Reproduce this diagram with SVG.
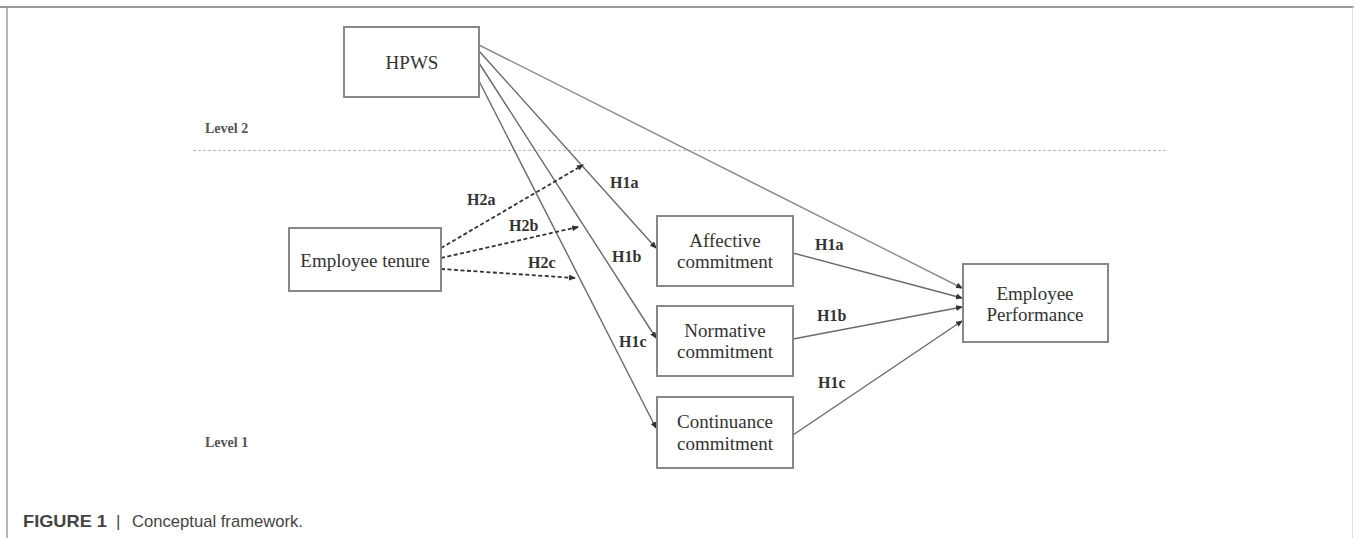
<svg xmlns="http://www.w3.org/2000/svg" width="1354" height="538" viewBox="0 0 1354 538">
<defs>
<marker id="ah" markerWidth="7" markerHeight="6" refX="6" refY="3" orient="auto" markerUnits="userSpaceOnUse">
<path d="M0,0 L7,3 L0,6 Z" fill="#333"/>
</marker>
<style>
.box{fill:#fff;stroke:#888;stroke-width:2}
.t{font-family:"Liberation Serif","Times New Roman",serif;font-size:19px;fill:#333;text-anchor:middle}
.lab{font-family:"Liberation Serif","Times New Roman",serif;font-size:16px;font-weight:bold;fill:#333}
.lvl{font-family:"Liberation Serif","Times New Roman",serif;font-size:14px;font-weight:bold;fill:#555}
.ln{stroke:#6a6a6a;stroke-width:1.4;fill:none}
.ln.light{stroke:#8c8c8c}
.dl{stroke:#333;stroke-width:1.8;stroke-dasharray:4 2.5;fill:none}
.cap{font-family:"Liberation Sans",Arial,sans-serif;font-size:17px;fill:#444}
</style>
</defs>
<rect width="1354" height="538" fill="#fff"/>
<g id="frame">
<line x1="0" y1="7" x2="1354" y2="7" stroke="#777" stroke-width="1.5"/>
<line x1="7" y1="7" x2="7" y2="538" stroke="#888" stroke-width="1.2"/>
<line x1="1352.5" y1="7" x2="1352.5" y2="538" stroke="#ddd" stroke-width="1"/>
</g>
<g id="levels">
<line x1="193" y1="150.5" x2="1168" y2="150.5" stroke="#bbb" stroke-width="1.2" stroke-dasharray="3 2"/>
<text class="lvl" x="205" y="133">Level 2</text>
<text class="lvl" x="205" y="447">Level 1</text>
</g>
<g id="connectors">
<line class="ln light" x1="479" y1="45" x2="962" y2="288" marker-end="url(#ah)"/>
<line class="ln" x1="479" y1="51" x2="656" y2="248" marker-end="url(#ah)"/>
<line class="ln" x1="479" y1="63" x2="656" y2="338" marker-end="url(#ah)"/>
<line class="ln" x1="479" y1="81" x2="656" y2="428" marker-end="url(#ah)"/>
<line class="ln" x1="793" y1="253" x2="962" y2="298" marker-end="url(#ah)"/>
<line class="ln" x1="793" y1="339" x2="962" y2="307" marker-end="url(#ah)"/>
<line class="ln" x1="793" y1="435" x2="962" y2="321" marker-end="url(#ah)"/>
<line class="dl" x1="441" y1="248" x2="583" y2="165" marker-end="url(#ah)"/>
<line class="dl" x1="441" y1="258" x2="578" y2="227" marker-end="url(#ah)"/>
<line class="dl" x1="441" y1="269" x2="575" y2="278" marker-end="url(#ah)"/>
<text class="lab" x="467" y="205">H2a</text>
<text class="lab" x="509" y="231">H2b</text>
<text class="lab" x="528" y="268">H2c</text>
<text class="lab" x="610" y="188">H1a</text>
<text class="lab" x="612" y="262">H1b</text>
<text class="lab" x="619" y="347">H1c</text>
<text class="lab" x="815" y="250">H1a</text>
<text class="lab" x="817" y="321">H1b</text>
<text class="lab" x="818" y="388">H1c</text>
</g>
<g id="hpws">
<rect class="box" x="344" y="27" width="135" height="70"/>
<text class="t" x="412" y="69">HPWS</text>
</g>
<g id="tenure">
<rect class="box" x="289" y="228" width="152" height="63"/>
<text class="t" x="365" y="267">Employee tenure</text>
</g>
<g id="affective">
<rect class="box" x="657" y="216" width="136" height="70"/>
<text class="t" x="725" y="247">Affective</text>
<text class="t" x="725" y="268">commitment</text>
</g>
<g id="normative">
<rect class="box" x="657" y="306" width="136" height="70"/>
<text class="t" x="725" y="337">Normative</text>
<text class="t" x="725" y="358">commitment</text>
</g>
<g id="continuance">
<rect class="box" x="657" y="397" width="136" height="71"/>
<text class="t" x="725" y="428">Continuance</text>
<text class="t" x="725" y="450">commitment</text>
</g>
<g id="performance">
<rect class="box" x="963" y="264" width="145" height="78"/>
<text class="t" x="1035" y="300">Employee</text>
<text class="t" x="1035" y="321">Performance</text>
</g>
<g id="caption">
<text class="cap" x="23" y="527" font-weight="bold" fill="#222" textLength="84" lengthAdjust="spacingAndGlyphs">FIGURE 1</text>
<text class="cap" x="116" y="527">|</text>
<text class="cap" x="132" y="527" textLength="171" lengthAdjust="spacingAndGlyphs">Conceptual framework.</text>
</g>
</svg>
